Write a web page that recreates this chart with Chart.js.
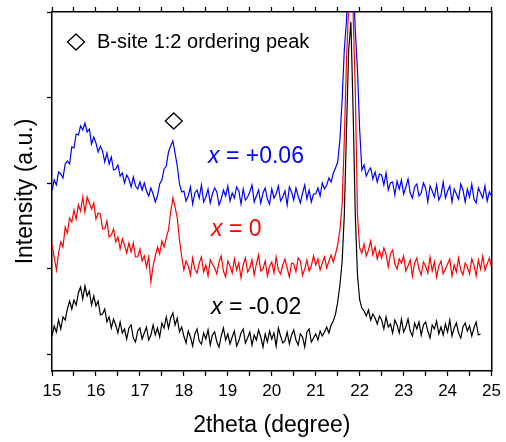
<!DOCTYPE html>
<html>
<head>
<meta charset="utf-8">
<script src="https://cdn.jsdelivr.net/npm/chart.js@4.4.1/dist/chart.umd.min.js"></script>
<style>
html,body{margin:0;padding:0;background:#fff;}
</style>
</head>
<body>
<canvas id="xrd" width="506" height="442"></canvas>
<script>
// XRD scans, 2theta 15..25 deg, 0.05 deg step (intensities offset per sample)
const scanStart = 15, scanStep = 0.05;

const blueX006 = [163,174,169,182,180,176,190,193,190,207,
206,220,219,228,224,231,222,225,210,217,
211,202,208,203,192,201,190,197,184,185,
189,178,181,171,179,175,167,177,168,165,
172,164,171,163,158,166,160,152,158,170,
174,185,188,202,208,213,201,188,170,162,
163,153,158,167,150,161,164,156,169,152,
157,165,151,160,166,162,149,155,164,158,
168,153,161,156,167,163,150,165,154,157,
162,169,152,158,164,151,161,166,155,150,
165,156,160,168,153,157,163,149,167,162,
154,166,158,151,161,169,155,164,152,160,
160,166,158,171,165,169,176,172,181,186,
192,214,254,304,334,394,414,374,324,284,
224,184,189,178,183,186,175,182,172,180,
179,169,181,164,171,172,159,173,165,174,
160,167,175,161,156,167,170,158,161,171,
166,152,168,163,157,169,154,159,172,156,
163,168,152,165,160,155,170,164,152,165,
157,170,155,151,166,161,156,168,153,162,
158];

const redX0 = [109,97,84,101,112,107,127,121,136,132,
144,135,149,143,157,142,157,151,145,151,
135,141,140,125,125,133,117,119,125,112,
117,105,115,109,101,111,102,111,97,97,
105,93,98,87,97,72,88,98,107,100,
113,107,116,124,142,156,147,136,114,98,
84,93,88,79,96,85,81,91,97,82,
89,78,94,90,86,80,92,98,83,77,
93,88,81,95,84,91,76,89,96,82,
86,94,79,90,99,83,85,93,78,88,
92,81,97,84,80,89,95,86,77,91,
90,82,96,93,79,85,94,83,88,98,
89,95,84,91,97,86,93,99,92,100,
109,124,149,214,294,349,364,342,264,139,
106,101,110,98,104,113,99,107,95,103,
96,106,100,87,100,104,90,85,95,91,
98,83,88,94,78,91,96,85,79,92,
88,81,97,83,92,77,88,93,80,85,
90,95,78,89,82,96,84,79,91,87,
80,95,89,78,94,85,98,84,90,96,
87];

const blackXm002 = [18,28,22,34,25,37,34,45,53,45,
54,49,61,67,55,68,58,63,49,58,
48,53,39,40,45,32,37,26,35,29,
21,32,21,25,15,26,29,16,12,23,
26,15,21,27,14,19,29,19,26,17,
31,26,37,26,36,41,29,36,22,27,
18,11,23,17,8,20,25,13,10,21,
15,24,9,19,22,12,7,18,26,14,
20,10,17,23,8,13,21,25,11,16,
22,9,19,14,24,17,7,20,12,23,
15,21,8,26,18,11,13,22,10,19,
24,14,9,20,17,7,22,25,12,16,
20,14,23,18,22,27,21,29,33,40,
52,69,92,139,224,304,332,244,139,79,
54,46,43,38,44,34,40,36,30,38,
34,25,37,27,30,21,34,29,21,35,
22,27,35,23,18,31,25,32,19,29,
32,23,16,29,25,33,20,27,19,30,
22,34,18,26,31,21,16,27,31,23,
28,18,26,32,19,20];

const seriesNames = ['+0.06', '0', '-0.02'];
const seriesColors = ['#0000ff', '#ff0000', '#000000'];
const yTickValues = [0, 85.5, 171, 256.5, 342];

const FONT = '"Liberation Sans", Arial, sans-serif';

function toPoints(vals) {
  return vals.map((v, i) => ({x: +(scanStart + i * scanStep).toFixed(2), y: v}));
}

function diamond(ctx, cx, cy, rx, ry) {
  ctx.beginPath();
  ctx.moveTo(cx, cy - ry);
  ctx.lineTo(cx + rx, cy);
  ctx.lineTo(cx, cy + ry);
  ctx.lineTo(cx - rx, cy);
  ctx.closePath();
  ctx.stroke();
}

// peak marker, legend note and the x = ... labels
const notes = {
  id: 'notes',
  afterDatasetsDraw(chart) {
    const {ctx, chartArea: ca, scales: {x, y}} = chart;
    ctx.save();
    ctx.strokeStyle = '#000';
    ctx.lineWidth = 1.3;
    diamond(ctx, ca.left + 24, ca.top + 30, 8.5, 8);
    diamond(ctx, x.getPixelForValue(17.77), y.getPixelForValue(233), 8.5, 8);

    ctx.fillStyle = '#000';
    ctx.font = '20px ' + FONT;
    ctx.textBaseline = 'alphabetic';
    ctx.fillText('B-site 1:2 ordering peak', ca.left + 45, ca.top + 36);

    const at = [[18.55, 191], [18.62, 118], [18.62, 40]];
    seriesNames.forEach((name, i) => {
      const px = x.getPixelForValue(at[i][0]);
      const py = y.getPixelForValue(at[i][1]);
      ctx.fillStyle = seriesColors[i];
      ctx.font = 'italic 23px ' + FONT;
      ctx.fillText('x', px, py);
      const w = ctx.measureText('x').width;
      ctx.font = '23px ' + FONT;
      ctx.fillText(' = ' + name, px + w, py);
    });
    ctx.restore();
  }
};

const axisGrid = {drawOnChartArea: false, drawTicks: true, tickLength: 5, tickWidth: 1.3, tickColor: '#000'};
const axisBorder = {display: true, color: '#000', width: 1.5};

new Chart(document.getElementById('xrd'), {
  type: 'line',
  data: {
    datasets: [blueX006, redX0, blackXm002].map((vals, i) => ({
      label: 'x = ' + seriesNames[i],
      data: toPoints(vals),
      borderColor: seriesColors[i],
      borderWidth: 1.2,
      pointRadius: 0,
      tension: 0,
      fill: false
    }))
  },
  options: {
    responsive: false,
    animation: false,
    layout: {padding: 0},
    plugins: {legend: {display: false}, tooltip: {enabled: false}},
    scales: {
      x: {
        type: 'linear', position: 'bottom', min: 15, max: 25,
        ticks: {stepSize: 0.5, autoSkip: false, maxRotation: 0, padding: 5, color: '#000',
                font: {size: 17, family: FONT},
                callback: v => Number.isInteger(v) ? String(v) : ''},
        grid: axisGrid,
        border: axisBorder,
        title: {display: true, text: '2theta (degree)', color: '#000',
                font: {size: 23, family: FONT}, padding: {top: 0, bottom: 3}},
        afterFit(s) { s.height = 71; }
      },
      xTop: {
        type: 'linear', position: 'top', min: 15, max: 25,
        ticks: {stepSize: 0.5, autoSkip: false, callback: () => ''},
        grid: axisGrid,
        border: axisBorder,
        afterFit(s) { s.height = 12; }
      },
      y: {
        type: 'linear', position: 'left', min: -17, max: 342,
        afterBuildTicks(s) { s.ticks = yTickValues.map(v => ({value: v})); },
        ticks: {callback: () => ''},
        grid: axisGrid,
        border: axisBorder,
        title: {display: true, text: 'Intensity (a.u.)', color: '#000',
                font: {size: 23, family: FONT}, padding: {top: 12, bottom: 0}},
        afterFit(s) { s.width = 52; }
      },
      yRight: {
        type: 'linear', position: 'right', min: -17, max: 342,
        ticks: {display: false},
        grid: {drawOnChartArea: false, drawTicks: false},
        border: axisBorder,
        afterFit(s) { s.width = 12; }
      }
    }
  },
  plugins: [notes]
});
</script>
</body>
</html>
